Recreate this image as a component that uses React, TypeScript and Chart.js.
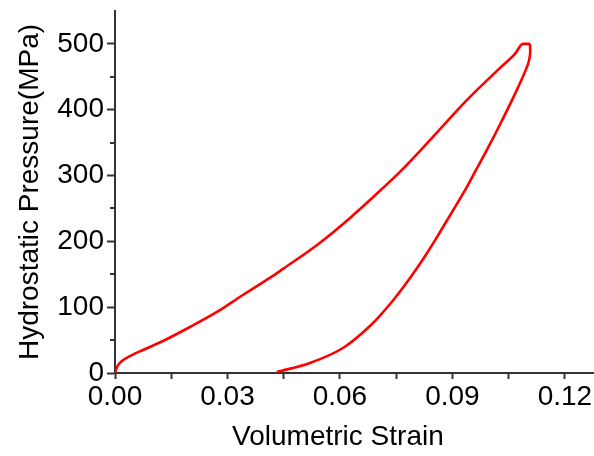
import { useEffect, useRef } from "react";
import { Chart, registerables } from "chart.js";

Chart.register(...registerables);

// Hydrostatic loading branch (volumetric strain, MPa)
const loadingStrain = [
  0, 0.00053, 0.00187, 0.004, 0.00747, 0.0128, 0.02, 0.0272, 0.0341, 0.0413,
  0.0448, 0.0539, 0.0627, 0.0715, 0.076, 0.0848, 0.0939, 0.1027, 0.1067,
  0.1088, 0.1107,
];
const loadingPressure = [
  0, 9.1, 18.2, 25.8, 35, 48.6, 69.9, 92.7, 118.5, 144.4,
  158.1, 194.5, 235.6, 281.2, 305.5, 358.7, 414.9, 463.5, 484.8,
  500, 500,
];

// Unloading branch, listed from zero pressure up to the peak
const unloadingStrain = [
  0.0432, 0.052, 0.0608, 0.068, 0.0736, 0.0787, 0.0829, 0.0867, 0.0931,
  0.0963, 0.0992, 0.1029, 0.1072, 0.1101, 0.1107, 0.1107,
];
const unloadingPressure = [
  1.5, 15.2, 38, 71.4, 106.4, 144.4, 179.3, 214.3, 275.1,
  308.5, 338.9, 379.9, 430.1, 468.1, 483.3, 500,
];

const xMin = 0;
const xMax = 0.1275;
const xTickStep = 0.015;
const xLabelEvery = 2;
const xTitleSpan = [0, 0.12];
const yMin = 0;
const yMax = 550;
const yTickStep = 100;
const yMinorValues = [50, 150, 250, 350, 450];

const xTitle = "Volumetric Strain";
const yTitle = "Hydrostatic Pressure(MPa)";

const lineColor = "#ff0000";
const axisColor = "#333333";
const fontFamily = "'Liberation Sans', Arial, sans-serif";
const fontSize = 28;

// Short minor ticks between labelled pressure ticks, and the strain axis title
const axisExtrasPlugin = {
  id: "axisExtras",
  afterDraw(chart: any) {
    const { x, y } = chart.scales;
    const ctx = chart.ctx;
    ctx.save();
    ctx.strokeStyle = axisColor;
    ctx.lineWidth = 2;
    for (const v of yMinorValues) {
      const py = Math.round(y.getPixelForValue(v));
      ctx.beginPath();
      ctx.moveTo(y.right - 5, py);
      ctx.lineTo(y.right, py);
      ctx.stroke();
    }
    const cx =
      (x.getPixelForValue(xTitleSpan[0]) + x.getPixelForValue(xTitleSpan[1])) / 2 - 2;
    ctx.fillStyle = "#000000";
    ctx.font = `${fontSize}px ${fontFamily}`;
    ctx.textAlign = "center";
    ctx.textBaseline = "middle";
    ctx.fillText(xTitle, cx, chart.height - 19);
    ctx.restore();
  },
};

export default function App() {
  const canvasRef = useRef<HTMLCanvasElement | null>(null);

  useEffect(() => {
    const canvas = canvasRef.current;
    if (!canvas) return;

    const branch = (xs: number[], ys: number[]) =>
      xs.map((x, i) => ({ x, y: ys[i] }));

    const lineStyle = {
      borderColor: lineColor,
      borderWidth: 2.6,
      pointRadius: 0,
      fill: false,
    };

    const chart = new Chart(canvas, {
      type: "line",
      data: {
        datasets: [
          {
            data: branch(loadingStrain, loadingPressure),
            ...lineStyle,
            cubicInterpolationMode: "monotone",
          },
          {
            data: branch(unloadingStrain, unloadingPressure),
            ...lineStyle,
            tension: 0.35,
          },
        ],
      },
      plugins: [axisExtrasPlugin],
      options: {
        animation: false,
        responsive: false,
        maintainAspectRatio: false,
        layout: { padding: { left: 0, right: 1, top: 11, bottom: 0 } },
        plugins: {
          legend: { display: false },
          tooltip: { enabled: false },
        },
        scales: {
          x: {
            type: "linear",
            min: xMin,
            max: xMax,
            afterFit(scale: any) {
              scale.height = 83;
              scale.paddingLeft = 0;
              scale.paddingRight = 0;
            },
            border: { display: true, color: axisColor, width: 2 },
            grid: {
              drawOnChartArea: false,
              drawTicks: true,
              tickLength: 6,
              tickWidth: 2,
              tickColor: axisColor,
            },
            ticks: {
              stepSize: xTickStep,
              includeBounds: false,
              autoSkip: false,
              maxRotation: 0,
              padding: 1,
              color: "#000000",
              font: { family: fontFamily, size: fontSize },
              callback(value: any) {
                const k = Math.round(Number(value) / xTickStep);
                return k % xLabelEvery === 0 ? Number(value).toFixed(2) : "";
              },
            },
            title: { display: false },
          },
          y: {
            type: "linear",
            min: yMin,
            max: yMax,
            afterFit(scale: any) {
              scale.width = 115;
              scale.paddingTop = 0;
              scale.paddingBottom = 0;
            },
            border: { display: true, color: axisColor, width: 2 },
            grid: {
              drawOnChartArea: false,
              drawTicks: true,
              tickLength: 8,
              tickWidth: 2,
              tickColor: axisColor,
            },
            ticks: {
              stepSize: yTickStep,
              includeBounds: false,
              padding: 3,
              color: "#000000",
              font: { family: fontFamily, size: fontSize },
            },
            title: {
              display: true,
              text: yTitle,
              color: "#000000",
              font: { family: fontFamily, size: fontSize },
              padding: { top: 13, bottom: 0 },
            },
          },
        },
      },
    });

    return () => chart.destroy();
  }, []);

  return (
    <div style={{ position: "absolute", left: 0, top: 0, width: 594, height: 456 }}>
      <canvas ref={canvasRef} width={594} height={456} style={{ width: 594, height: 456 }} />
    </div>
  );
}
